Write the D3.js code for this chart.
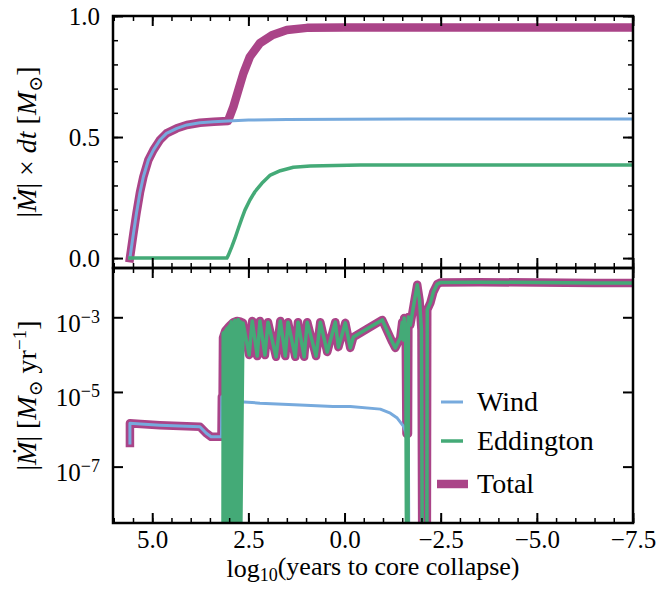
<!DOCTYPE html>
<html>
<head>
<meta charset="utf-8">
<script src="https://cdn.jsdelivr.net/npm/d3@7"></script>
<style>
  body { margin: 0; background: #fff; }
  text { font-family: "Liberation Serif", "DejaVu Serif", serif; fill: #000; }
</style>
</head>
<body>
<script>
const width = 663;
const height = 589;
const left = 113, right = 633;
const top1 = 16, mid = 268, bottom2 = 523;
const serif = '"Liberation Serif", "DejaVu Serif", serif';

const blue = "#77aadd", green = "#44aa77", purple = "#aa4488";

// top panel: cumulative mass lost, [log10(years to CC), Msun]
const windCum = [
  [5.58, 0], [5.49, 0.10], [5.41, 0.185], [5.32, 0.27], [5.23, 0.336], [5.10, 0.405],
  [4.97, 0.446], [4.80, 0.488], [4.63, 0.515], [4.36, 0.536], [4.10, 0.55], [3.76, 0.559],
  [3.40, 0.563], [3.03, 0.566], [2.50, 0.570], [1.50, 0.572], [0.00, 0.573], [-1.66, 0.574],
  [-7.50, 0.574]
];
const eddCum = [
  [5.58, 0], [3.06, 0], [3.02, 0.012], [2.93, 0.047], [2.85, 0.081], [2.76, 0.123],
  [2.67, 0.164], [2.59, 0.198], [2.46, 0.24], [2.33, 0.274], [2.15, 0.309], [1.93, 0.343],
  [1.67, 0.361], [1.33, 0.375], [0.89, 0.38], [-0.41, 0.384], [-7.5, 0.385]
];
const totalCum = [
  [5.58, 0], [5.49, 0.10], [5.41, 0.185], [5.32, 0.27], [5.23, 0.336], [5.10, 0.405],
  [4.97, 0.446], [4.80, 0.488], [4.63, 0.515], [4.36, 0.536], [4.10, 0.55], [3.76, 0.559],
  [3.40, 0.563], [3.03, 0.566], [2.89, 0.625], [2.76, 0.694], [2.63, 0.763], [2.46, 0.832],
  [2.20, 0.888], [1.89, 0.92], [1.50, 0.942], [0.98, 0.951], [0.03, 0.952], [-7.5, 0.952]
];

// bottom panel: mass-loss rate, [log10(years to CC), log10(Msun/yr)]
const windRate = [
  [5.58, -6.37], [5.58, -5.84], [5.30, -5.86], [4.80, -5.89], [4.28, -5.91], [3.76, -5.93],
  [3.60, -6.10], [3.47, -6.20], [3.20, -6.20], [3.19, -5.13], [2.95, -5.20], [2.72, -5.26],
  [2.20, -5.30], [1.16, -5.35], [0.30, -5.39], [-0.15, -5.39], [-0.93, -5.46], [-1.19, -5.57],
  [-1.37, -5.70], [-1.54, -5.93], [-1.63, -6.20], [-1.66, -6.32], [-1.67, -9]
];
const eddRate = [
  [3.16, -9], [3.155, -3.42], [3.14, -9], [3.125, -3.40], [3.11, -9], [3.095, -3.36],
  [3.08, -9], [3.065, -3.31], [3.05, -9], [3.035, -3.28], [3.02, -9], [3.005, -3.25],
  [2.99, -9], [2.975, -3.20], [2.96, -9], [2.945, -3.12], [2.93, -9], [2.915, -3.17],
  [2.90, -9], [2.885, -3.15], [2.87, -9], [2.855, -3.08], [2.84, -9], [2.825, -3.14],
  [2.81, -9], [2.795, -3.13], [2.78, -9], [2.765, -3.06], [2.75, -9], [2.735, -3.12],
  [2.72, -9], [2.705, -3.12], [2.70, -9],
  [2.64, -3.15], [2.48, -4.01], [2.40, -3.10], [2.27, -4.04], [2.20, -3.10], [2.07, -4.01],
  [1.99, -3.13], [1.78, -4.06], [1.67, -3.10], [1.54, -4.04], [1.47, -3.13], [1.28, -4.06],
  [1.21, -3.13], [1.05, -4.06], [0.97, -3.13], [0.74, -4.04], [0.63, -3.13], [0.45, -3.93],
  [0.24, -3.13], [0.16, -3.80], [-0.02, -3.15], [-0.15, -3.82], [-0.23, -3.53], [-0.62, -3.29],
  [-0.98, -3.07], [-1.24, -3.66], [-1.32, -3.82], [-1.45, -3.55], [-1.50, -3.13], [-1.53, -3.61],
  [-1.55, -3.02], [-1.59, -3.34], [-1.61, -9], [-1.65, -9], [-1.66, -2.99], [-1.71, -3.21],
  [-1.82, -2.54], [-1.89, -2.13], [-1.95, -2.54], [-2.00, -3.34], [-2.02, -9], [-2.14, -9],
  [-2.15, -2.80], [-2.23, -2.62], [-2.31, -2.32], [-2.41, -2.11], [-2.49, -2.07],
  [-3.5, -2.06], [-5.0, -2.07], [-6.5, -2.08], [-7.5, -2.08]
];
const totalRate = [
  [5.58, -6.37], [5.58, -5.84], [5.30, -5.86], [4.80, -5.89], [4.28, -5.91], [3.76, -5.93],
  [3.60, -6.10], [3.47, -6.20], [3.20, -6.20], [3.19, -5.13], [3.17, -5.13], [3.16, -3.55],
  [3.10, -3.36], [3.00, -3.24], [2.90, -3.14], [2.80, -3.10], [2.70, -3.12],
  [2.64, -3.15], [2.48, -4.01], [2.40, -3.10], [2.27, -4.04], [2.20, -3.10], [2.07, -4.01],
  [1.99, -3.13], [1.78, -4.06], [1.67, -3.10], [1.54, -4.04], [1.47, -3.13], [1.28, -4.06],
  [1.21, -3.13], [1.05, -4.06], [0.97, -3.13], [0.74, -4.04], [0.63, -3.13], [0.45, -3.93],
  [0.24, -3.13], [0.16, -3.80], [-0.02, -3.15], [-0.15, -3.82], [-0.23, -3.53], [-0.62, -3.29],
  [-0.98, -3.07], [-1.24, -3.66], [-1.32, -3.82], [-1.45, -3.55], [-1.50, -3.13], [-1.53, -3.61],
  [-1.55, -3.02], [-1.59, -3.34], [-1.61, -6.12], [-1.65, -6.12], [-1.66, -2.99], [-1.71, -3.21],
  [-1.82, -2.54], [-1.89, -2.13], [-1.95, -2.54], [-2.00, -3.34], [-2.02, -9], [-2.14, -9],
  [-2.15, -2.80], [-2.23, -2.62], [-2.31, -2.32], [-2.41, -2.11], [-2.49, -2.07],
  [-3.5, -2.06], [-5.0, -2.07], [-6.5, -2.08], [-7.5, -2.08]
];

const xTicks = [5, 2.5, 0, -2.5, -5, -7.5];
const yTicksTop = [0, 0.5, 1.0];
const yTicksBottom = [1e-3, 1e-5, 1e-7];
const legendNames = ["Wind", "Eddington", "Total"];

const svg = d3.select("body")
  .append("svg")
  .attr("width", width)
  .attr("height", height);

const x = d3.scaleLinear().domain([6.02, -7.5]).range([left, right]);
const yTop = d3.scaleLinear().domain([-0.041, 1.0]).range([mid, top1]);
const yBot = d3.scaleLog().domain([10 ** -8.51, 10 ** -1.68]).range([bottom2, mid]);

const defs = svg.append("defs");
defs.append("clipPath").attr("id", "clipTop").append("rect")
  .attr("x", left).attr("y", top1).attr("width", right - left).attr("height", mid - top1);
defs.append("clipPath").attr("id", "clipBot").append("rect")
  .attr("x", left).attr("y", mid).attr("width", right - left).attr("height", bottom2 - mid);

const lineTop = d3.line().x(d => x(d[0])).y(d => yTop(d[1]));
const lineBot = d3.line().x(d => x(d[0])).y(d => yBot(10 ** d[1]));

const series = [
  { name: "Total", color: purple, w: 8.5, top: totalCum, bot: totalRate },
  { name: "Wind", color: blue, w: 3, top: windCum, bot: windRate },
  { name: "Eddington", color: green, w: 3.5, top: eddCum, bot: eddRate }
];

const gTop = svg.append("g").attr("clip-path", "url(#clipTop)");
const gBot = svg.append("g").attr("clip-path", "url(#clipBot)");

series.forEach(s => {
  gTop.append("path")
    .attr("d", lineTop(s.top))
    .attr("fill", "none")
    .attr("stroke", s.color)
    .attr("stroke-width", s.w)
    .attr("stroke-linejoin", "round")
    .attr("stroke-linecap", "square");
  gBot.append("path")
    .attr("d", lineBot(s.bot))
    .attr("fill", "none")
    .attr("stroke", s.color)
    .attr("stroke-width", s.w)
    .attr("stroke-linejoin", "round")
    .attr("stroke-linecap", "square");
});

// axes: all ticks point inward
function addAxis(axis, tx, ty, major) {
  const g = svg.append("g")
    .attr("transform", `translate(${tx},${ty})`)
    .call(axis);
  g.attr("font-family", serif).attr("font-size", 25);
  g.selectAll("text").attr("font-family", serif);
  g.select(".domain").remove();
  g.selectAll(".tick line").attr("stroke", "#000").attr("stroke-width", major ? 2 : 1.5);
  return g;
}

const xMinor = d3.range(6, -7.6, -0.5);
const yMinorTop = d3.range(0, 1.01, 0.1);

// top panel
addAxis(d3.axisBottom(x).tickValues(xMinor).tickSize(-5).tickFormat(""), 0, mid, false);
addAxis(d3.axisBottom(x).tickValues(xTicks).tickSize(-10).tickFormat(""), 0, mid, true);
addAxis(d3.axisTop(x).tickValues(xMinor).tickSize(-5).tickFormat(""), 0, top1, false);
addAxis(d3.axisTop(x).tickValues(xTicks).tickSize(-10).tickFormat(""), 0, top1, true);
addAxis(d3.axisLeft(yTop).tickValues(yMinorTop).tickSize(-5).tickFormat(""), left, 0, false);
addAxis(d3.axisLeft(yTop).tickValues(yTicksTop).tickSize(-10).tickPadding(13)
  .tickFormat(d3.format(".1f")), left, 0, true);
addAxis(d3.axisRight(yTop).tickValues(yMinorTop).tickSize(-5).tickFormat(""), right, 0, false);
addAxis(d3.axisRight(yTop).tickValues(yTicksTop).tickSize(-10).tickFormat(""), right, 0, true);

// bottom panel
addAxis(d3.axisBottom(x).tickValues(xMinor).tickSize(-5).tickFormat(""), 0, bottom2, false);
addAxis(d3.axisBottom(x).tickValues(xTicks).tickSize(-10).tickPadding(7)
  .tickFormat(d3.format(".1f")), 0, bottom2, true);
addAxis(d3.axisTop(x).tickValues(xMinor).tickSize(-5).tickFormat(""), 0, mid, false);
addAxis(d3.axisTop(x).tickValues(xTicks).tickSize(-10).tickFormat(""), 0, mid, true);
const gYb = addAxis(d3.axisLeft(yBot).tickValues(yTicksBottom).tickSize(-10).tickPadding(13)
  .tickFormat(""), left, 0, true);
addAxis(d3.axisRight(yBot).tickValues(yTicksBottom).tickSize(-10).tickFormat(""), right, 0, true);

gYb.selectAll(".tick text")
  .attr("dy", "0.55em")
  .each(function(d) {
    const t = d3.select(this);
    t.append("tspan").text("10");
    t.append("tspan").attr("dy", "-0.5em").attr("font-size", 18)
      .text("\u2212" + Math.round(-Math.log10(d)));
  });

// frames
[[top1, mid], [mid, bottom2]].forEach(([a, b]) => {
  svg.append("rect")
    .attr("x", left).attr("y", a)
    .attr("width", right - left).attr("height", b - a)
    .attr("fill", "none").attr("stroke", "#000").attr("stroke-width", 2.5);
});

// axis labels
const xl = svg.append("text")
  .attr("x", (left + right) / 2).attr("y", 577)
  .attr("font-family", serif)
  .attr("text-anchor", "middle").attr("font-size", 26);
xl.append("tspan").text("log");
xl.append("tspan").attr("font-size", 18).attr("dy", "0.22em").text("10");
xl.append("tspan").attr("dy", "-0.22em").text("(years to core collapse)");

const yl1 = svg.append("text")
  .attr("transform", `translate(36,${(top1 + mid) / 2}) rotate(-90)`)
  .attr("font-family", serif)
  .attr("text-anchor", "middle").attr("font-size", 28);
yl1.append("tspan").text("|");
yl1.append("tspan").attr("font-style", "italic").text("M\u0307");
yl1.append("tspan").text("| \u00d7 ");
yl1.append("tspan").attr("font-style", "italic").text("dt");
yl1.append("tspan").text(" [");
yl1.append("tspan").attr("font-style", "italic").text("M");
yl1.append("tspan").attr("font-size", 19).attr("dy", "0.3em").text("\u2299");
yl1.append("tspan").attr("dy", "-0.2em").text("]");

const yl2 = svg.append("text")
  .attr("transform", `translate(36,${(mid + bottom2) / 2}) rotate(-90)`)
  .attr("font-family", serif)
  .attr("text-anchor", "middle").attr("font-size", 28);
yl2.append("tspan").text("|");
yl2.append("tspan").attr("font-style", "italic").text("M\u0307");
yl2.append("tspan").text("| [");
yl2.append("tspan").attr("font-style", "italic").text("M");
yl2.append("tspan").attr("font-size", 19).attr("dy", "0.3em").text("\u2299");
yl2.append("tspan").attr("dy", "-0.2em").text(" yr");
yl2.append("tspan").attr("font-size", 19).attr("dy", "-0.55em").text("\u22121");
yl2.append("tspan").attr("dy", "0.4em").text("]");

// legend
const legendRows = [
  { y: 402, color: blue, w: 3, x0: 441, x1: 463 },
  { y: 441, color: green, w: 3.5, x0: 441, x1: 463 },
  { y: 484, color: purple, w: 8.5, x0: 437, x1: 468 }
];
legendRows.forEach((r, i) => {
  svg.append("line")
    .attr("x1", r.x0).attr("x2", r.x1).attr("y1", r.y).attr("y2", r.y)
    .attr("stroke", r.color).attr("stroke-width", r.w);
  svg.append("text")
    .attr("x", 477).attr("y", r.y + 9)
    .attr("font-family", serif)
    .attr("font-size", 28)
    .text(legendNames[i]);
});
</script>
</body>
</html>
